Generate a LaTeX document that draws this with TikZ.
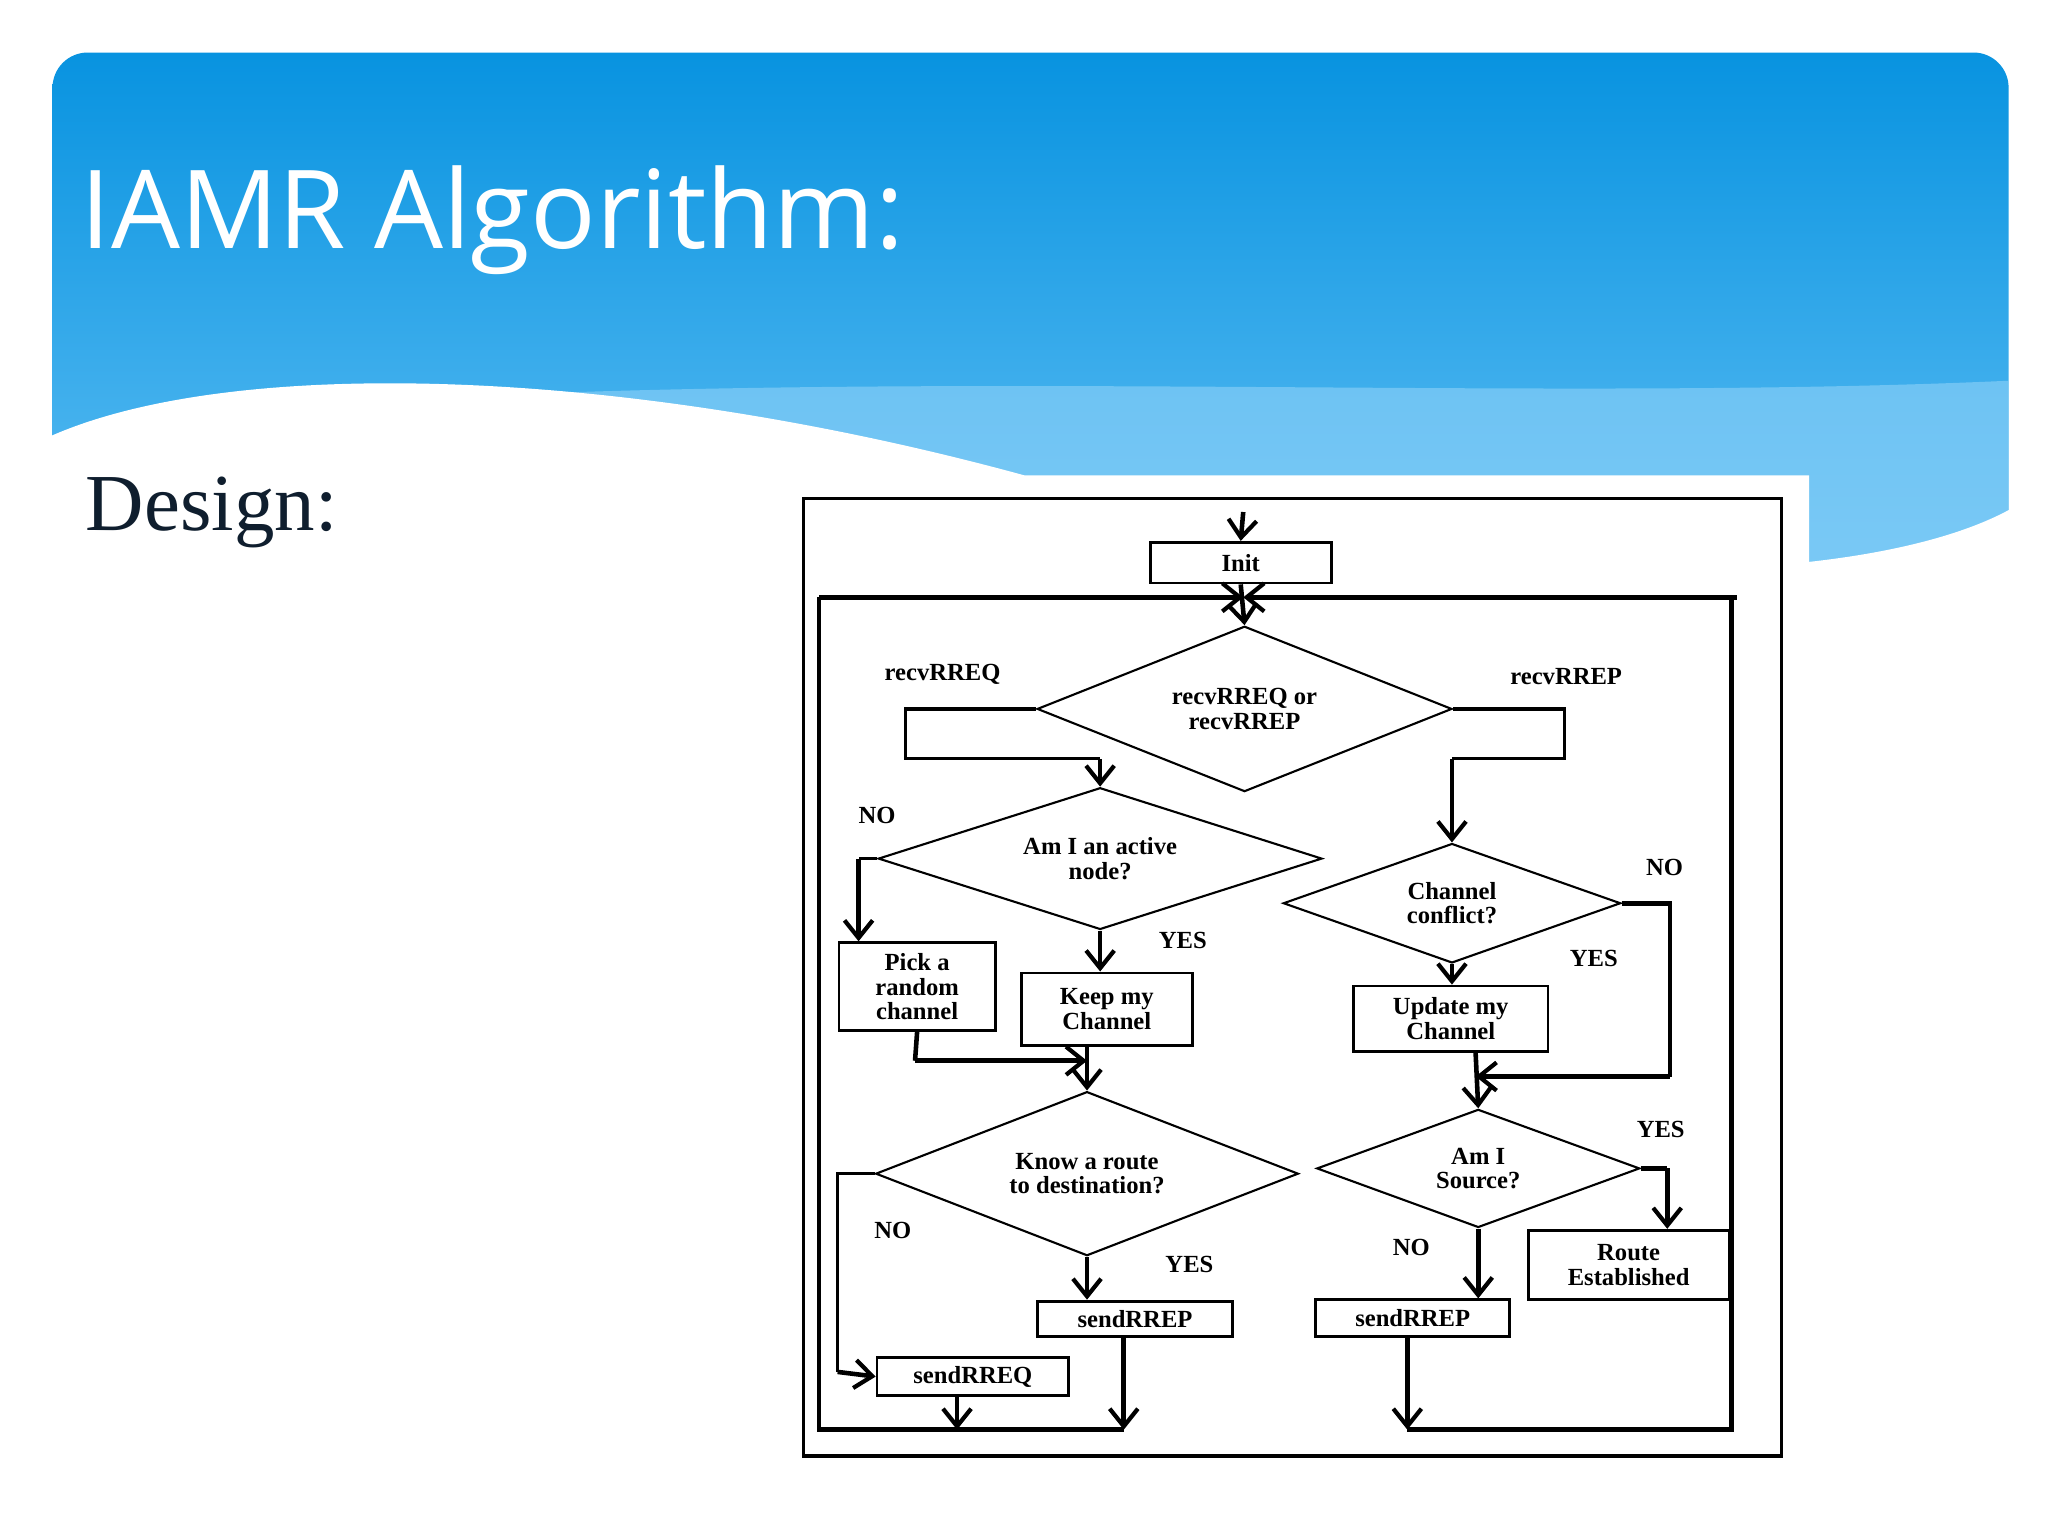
\documentclass[tikz,border=0pt]{standalone}
\usepackage{fontspec}
\setmainfont{Liberation Serif}
\newfontfamily\titlefont{Open Sans}
\usetikzlibrary{shapes.geometric,arrows.meta}
\def\u{0.013128cm}
\definecolor{bluetop}{HTML}{0893E0}
\definecolor{bluebot}{HTML}{5CBDF3}
\definecolor{bluelight}{HTML}{8FD2F8}
\definecolor{darktext}{HTML}{0F1E2E}
\begin{document}
\begin{tikzpicture}[x=\u,y=-\u,
  box/.style={draw,line width=0.8pt,inner sep=0pt,font=\fontsize{7}{7}\selectfont\bfseries,align=center,anchor=north west},
  dia/.style={draw,diamond,line width=0.6pt,inner sep=0pt,aspect=2.5,font=\fontsize{7}{7}\selectfont\bfseries,align=center},
  lab/.style={font=\fontsize{7}{7}\selectfont\bfseries},
  ln/.style={line width=1.3pt},
  arr/.style={line width=1.3pt,-{Straight Barb[length=5pt,width=8pt,line width=1.2pt]}}]
\useasboundingbox (0,0) rectangle (1560,1170);
\fill[white] (0,0) rectangle (1560,1170);
% header
\shade[top color=bluetop,bottom color=bluebot,rounded corners=10] (40,40) rectangle (1530,440);
\fill[bluelight,opacity=0.6] (400,300) .. controls (800,285) and (1200,305) .. (1530,290) -- (1530,440) -- (400,440) -- cycle;
\fill[white] (39,332) .. controls (180,270) and (480,280) .. (780,362) -- (1378,362) -- (1378,428) .. controls (1450,420) and (1500,405) .. (1531,388) -- (1531,1170) -- (39,1170) -- cycle;
\node[anchor=west,text=white,font=\titlefont\fontsize{31}{31}\selectfont] (title) at (52,168) {IAMR Algorithm:};
\node[anchor=west,text=darktext,font=\fontsize{23}{23}\selectfont] (design) at (56,390) {Design:};
% flowchart frame
\draw[line width=0.9pt] (612,380) rectangle (1357,1109);
\coordinate (tl) at (624,455); \coordinate (tr) at (1323,455);
\coordinate (tc) at (947,455);
\draw[ln] (624,455) -- (624,1089) -- (856,1089);
\draw[ln] (1072,1089) -- (1319,1089) -- (1319,455);
\draw[arr] (tl) -- (tc);
\draw[arr] (tr) -- (tc);
% nodes
\node[box,minimum width={138*\u},minimum height={31*\u}] (init) at (875,412) {Init};
\coordinate (start) at (947,390);
\node[dia,minimum width={316*\u},minimum height={126*\u}] (d1) at (948,540) {recvRREQ or\\recvRREP};
\node[dia,minimum width={338*\u},minimum height={108*\u}] (d2) at (838,654) {Am I an active\\node?};
\node[box,minimum width={119*\u},minimum height={67*\u}] (pick) at (638,717) {Pick a\\random\\channel};
\node[box,minimum width={130*\u},minimum height={55*\u}] (keep) at (777,740) {Keep my\\Channel};
\node[dia,minimum width={322*\u},minimum height={125*\u}] (d3) at (828,894) {Know a route\\to destination?};
\node[box,minimum width={149*\u},minimum height={27*\u}] (srep1) at (789,990) {sendRREP};
\node[box,minimum width={146*\u},minimum height={29*\u}] (sreq) at (667,1033) {sendRREQ};
\node[dia,minimum width={257*\u},minimum height={91*\u}] (d4) at (1106,688) {Channel\\conflict?};
\node[box,minimum width={148*\u},minimum height={50*\u}] (upd) at (1030,750) {Update my\\Channel};
\node[dia,minimum width={246*\u},minimum height={90*\u}] (d5) at (1126,890) {Am I\\Source?};
\node[box,minimum width={153*\u},minimum height={53*\u}] (route) at (1163,936) {Route\\Established};
\node[box,minimum width={148*\u},minimum height={28*\u}] (srep2) at (1001,989) {sendRREP};
% labels
\node[lab] (l1) at (718,514) {recvRREQ};
\node[lab] (l2) at (1193,515) {recvRREP};
\node[lab] (l3) at (668,621) {NO};
\node[lab] (l4) at (901,716) {YES};
\node[lab] (l5) at (1268,661) {NO};
\node[lab] (l6) at (1214,730) {YES};
\node[lab] (l7) at (680,937) {NO};
\node[lab] (l8) at (906,963) {YES};
\node[lab] (l9) at (1265,860) {YES};
\node[lab] (l10) at (1075,950) {NO};
% connectors
\draw[arr] (start) -- (init.north);
\draw[arr] (init.south) -- (d1.north);
\draw[line width=0.9pt] (d1.west) -- (690,540) -- (690,578) -- (838,578);
\draw[arr] (838,578) -- (d2.north);
\draw[line width=0.9pt] (d1.east) -- (1192,540) -- (1192,578) -- (1106,578);
\draw[arr] (1106,578) -- (d4.north);
\draw[line width=0.9pt] (d2.west) -- (654,654);
\draw[arr] (654,654) -- (pick.north -| 654,0);
\draw[arr] (d2.south) -- (keep.north -| d2.south);
\draw[ln] (pick.south) -- (697,808);
\draw[arr] (697,808) -- (828,808);
\draw[arr] (keep.south -| 828,0) -- (d3.north);
\draw[line width=0.9pt] (d3.west) -- (638,894) -- (638,1045);
\draw[arr] (638,1045) -- (sreq.west);
\draw[arr] (d3.south) -- (srep1.north -| d3.south);
\draw[arr] (srep1.south -| 856,0) -- (856,1089);
\draw[arr] (sreq.south -| 729,0) -- (729,1089);
\draw[arr] (d4.south) -- (upd.north -| d4.south);
\draw[ln] (d4.east) -- (1272,688) -- (1272,820);
\draw[arr] (1272,820) -- (1124,820);
\draw[arr] (upd.south -| 1124,0) -- (d5.north);
\draw[ln] (d5.east) -- (1270,890);
\draw[arr] (1270,890) -- (route.north -| 1270,0);
\draw[arr] (d5.south) -- (srep2.north -| d5.south);
\draw[arr] (srep2.south -| 1072,0) -- (1072,1089);
\end{tikzpicture}
\end{document}
